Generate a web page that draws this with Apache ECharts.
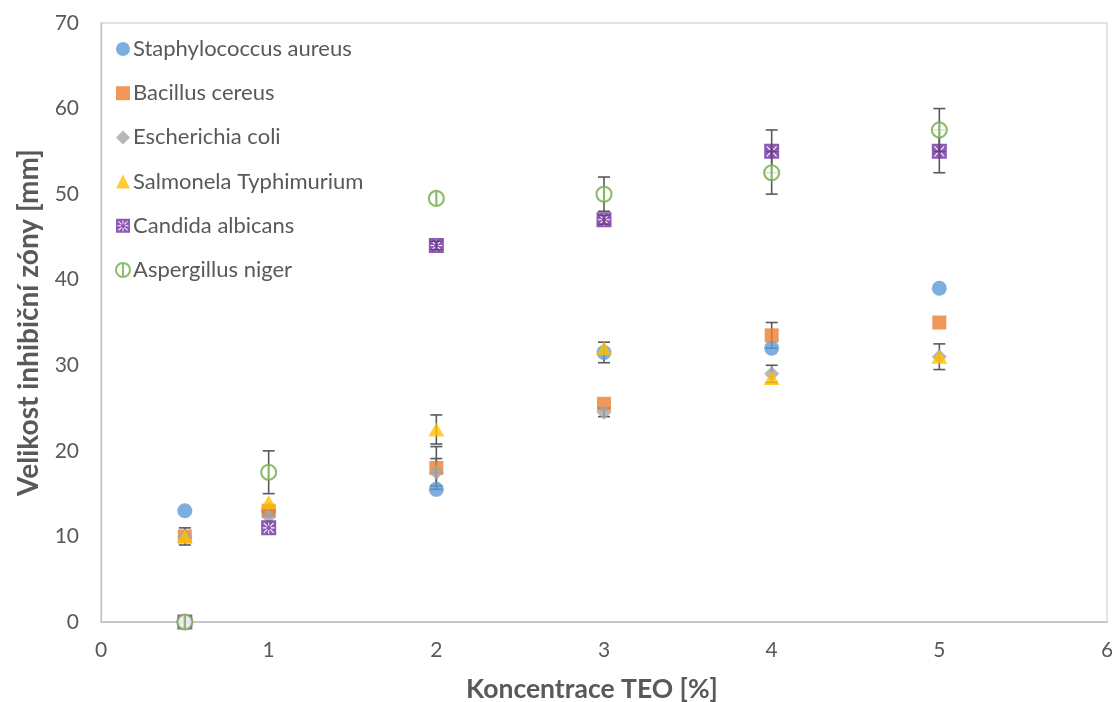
<!DOCTYPE html>
<html>
<head>
<meta charset="utf-8">
<script src="https://cdn.jsdelivr.net/npm/echarts@6/dist/echarts.min.js"></script>
<style>
  html, body { margin: 0; padding: 0; background: #ffffff; }
  #chart { width: 1112px; height: 702px; }
</style>
</head>
<body>
<div id="chart"></div>
<script>
// Concentration of thyme essential oil (TEO), %
const concentrations = [0.5, 1, 2, 3, 4, 5];

// Inhibition zone sizes [mm] per organism
const staphylococcus = [13, 13, 15.5, 31.5, 32, 39];
const bacillus = [10, 13, 18, 25.5, 33.5, 35];
const escherichia = [10, 12.3, 17.5, 24.5, 29, 31];
const salmonela = [10, 14, 22.5, 32, 28.5, 31];
const candida = [0, 11, 44, 47, 55, 55];
const aspergillus = [0, 17.5, 49.5, 50, 52.5, 57.5];

// Error bar half-widths [mm]
const staphylococcusErr = [0, 0, 0, 1.2, 0, 0];
const bacillusErr = [1, 0.5, 2.5, 0, 1.5, 0];
const escherichiaErr = [0, 0, 1.6, 0.5, 1, 1.5];
const salmonelaErr = [0, 0, 1.7, 0, 0, 0];
const candidaErr = [0, 0, 0.5, 0.5, 2.5, 2.5];
const aspergillusErr = [0, 2.5, 0, 2, 2.5, 2.5];

// Axis ticks
const xTicks = [0, 1, 2, 3, 4, 5, 6];
const yTicks = [0, 10, 20, 30, 40, 50, 60, 70];

const FONT = 'Lato, "Open Sans", sans-serif';
const TEXT = '#595959';

// Purple square with a white eight-ray star cut out of it
function starSquarePath() {
  const c = 8, w = 0.55;
  let d = 'M0,0 L16,0 L16,16 L0,16 Z';
  for (let k = 0; k < 8; k++) {
    const a = k * Math.PI / 4;
    const diag = k % 2 === 1;
    const r1 = 2.4, r2 = diag ? 7.4 : 6.2;
    const ux = Math.cos(a), uy = Math.sin(a);
    const nx = -uy, ny = ux;
    let pts = [
      [c + ux * r1 + nx * w, c + uy * r1 + ny * w],
      [c + ux * r1 - nx * w, c + uy * r1 - ny * w],
      [c + ux * r2 - nx * w, c + uy * r2 - ny * w],
      [c + ux * r2 + nx * w, c + uy * r2 + ny * w]
    ];
    let area = 0;
    for (let i = 0; i < 4; i++) {
      const p = pts[i], q = pts[(i + 1) % 4];
      area += p[0] * q[1] - q[0] * p[1];
    }
    if (area > 0) pts = pts.reverse();
    d += ' M' + pts.map(p => p[0].toFixed(2) + ',' + p[1].toFixed(2)).join(' L') + ' Z';
  }
  return 'path://' + d;
}

// Open circle with a vertical stroke
const ringBarPath = 'path://M8,1 A7,7 0 1,1 7.99,1 Z M8,1 L8,15';

const seriesDefs = [
  { name: 'Staphylococcus aureus', values: staphylococcus, err: staphylococcusErr,
    symbol: 'circle', size: 15, itemStyle: { color: '#5b9bd5' } },
  { name: 'Bacillus cereus', values: bacillus, err: bacillusErr,
    symbol: 'rect', size: 14, itemStyle: { color: '#ed7d31' } },
  { name: 'Escherichia coli', values: escherichia, err: escherichiaErr,
    symbol: 'diamond', size: [15, 15], itemStyle: { color: '#a5a5a5' } },
  { name: 'Salmonela Typhimurium', values: salmonela, err: salmonelaErr,
    symbol: 'triangle', size: [16, 14], itemStyle: { color: '#ffc000' } },
  { name: 'Candida albicans', values: candida, err: candidaErr,
    symbol: starSquarePath(), size: 15, itemStyle: { color: '#7030a0' } },
  { name: 'Aspergillus niger', values: aspergillus, err: aspergillusErr,
    symbol: ringBarPath, size: 15,
    itemStyle: { color: '#ffffff', borderColor: '#70ad47', borderWidth: 2.2 } }
];

// Error bars: [x, low, high]
const errorData = [];
seriesDefs.forEach(s => {
  s.values.forEach((v, i) => {
    if (s.err[i] > 0) errorData.push([concentrations[i], v - s.err[i], v + s.err[i]]);
  });
});

const series = [{
  type: 'custom',
  name: 'errors',
  silent: true,
  z: 1,
  data: errorData,
  encode: { x: 0, y: [1, 2] },
  renderItem: function (params, api) {
    const x = api.value(0);
    const lo = api.coord([x, api.value(1)]);
    const hi = api.coord([x, api.value(2)]);
    const half = 6;
    const style = { stroke: '#595959', lineWidth: 1.6 };
    return {
      type: 'group',
      children: [
        { type: 'line', shape: { x1: lo[0], y1: lo[1], x2: hi[0], y2: hi[1] }, style: style },
        { type: 'line', shape: { x1: hi[0] - half, y1: hi[1], x2: hi[0] + half, y2: hi[1] }, style: style },
        { type: 'line', shape: { x1: lo[0] - half, y1: lo[1], x2: lo[0] + half, y2: lo[1] }, style: style }
      ]
    };
  }
}];

seriesDefs.forEach((s, idx) => {
  series.push({
    type: 'scatter',
    name: s.name,
    symbol: s.symbol,
    symbolSize: s.size,
    z: 2 + idx,
    itemStyle: s.itemStyle,
    emphasis: { disabled: true },
    data: s.values.map((v, i) => [concentrations[i], v])
  });
});

const chart = echarts.init(document.getElementById('chart'), null, { renderer: 'canvas' });
chart.setOption({
  animation: false,
  backgroundColor: '#ffffff',
  textStyle: { fontFamily: FONT },
  grid: {
    left: 101, right: 5, top: 23, bottom: 80,
    outerBoundsMode: 'none',
    containLabel: false,
    show: true, borderColor: '#d9d9d9', borderWidth: 1.3, backgroundColor: 'transparent'
  },
  legend: {
    data: seriesDefs.map(s => s.name),
    orient: 'vertical',
    left: 110, top: 33,
    itemWidth: 14, itemHeight: 14,
    itemGap: 22.2,
    textStyle: { fontFamily: FONT, fontSize: 22, color: TEXT, lineHeight: 21, padding: [0, 0, 0, -2] },
    selectedMode: false
  },
  xAxis: {
    type: 'value',
    min: xTicks[0], max: xTicks[xTicks.length - 1], interval: 1,
    name: 'Koncentrace TEO [%]',
    nameLocation: 'middle', nameGap: 54,
    nameTextStyle: { fontFamily: FONT, fontSize: 26.5, fontWeight: 'bold', color: TEXT, padding: [0, 24, 0, 0] },
    axisLine: { show: true, lineStyle: { color: '#bfbfbf', width: 1.5 } },
    axisTick: { show: false },
    splitLine: { show: false },
    axisLabel: { fontFamily: FONT, fontSize: 21, color: TEXT, margin: 18 }
  },
  yAxis: {
    type: 'value',
    min: yTicks[0], max: yTicks[yTicks.length - 1], interval: 10,
    name: 'Velikost inhibiční zóny [mm]',
    nameLocation: 'middle', nameGap: 58, nameRotate: 90,
    nameTextStyle: { fontFamily: FONT, fontSize: 28, fontWeight: 'bold', color: TEXT },
    axisLine: { show: true, lineStyle: { color: '#bfbfbf', width: 1.3 } },
    axisTick: { show: false },
    splitLine: { show: false },
    axisLabel: { fontFamily: FONT, fontSize: 21, color: TEXT, margin: 22 }
  },
  series: series
});
</script>
</body>
</html>
